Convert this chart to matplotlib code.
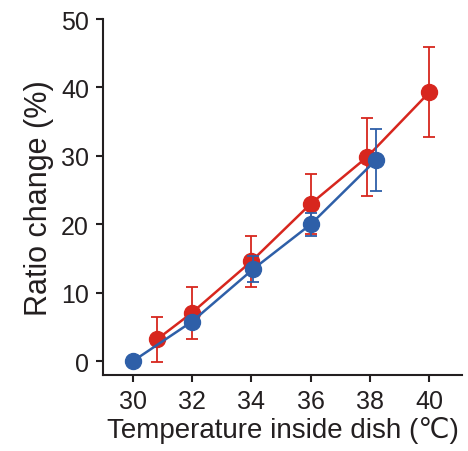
import numpy as np
import matplotlib.pyplot as plt

plt.rcParams['font.family'] = ['Liberation Sans', 'DejaVu Sans']

# red series
red_x = [30.82, 32.0, 34.0, 36.0, 37.89, 40.0]
red_y = [3.2, 7.1, 14.6, 23.0, 29.8, 39.3]
red_err = [3.3, 3.8, 3.7, 4.4, 5.7, 6.6]

# blue series
blue_x = [30.0, 32.0, 34.07, 36.0, 38.2]
blue_y = [0.0, 5.8, 13.5, 20.0, 29.4]
blue_err = [0.0, 0.4, 1.9, 1.7, 4.5]

xticks = [30, 32, 34, 36, 38, 40]
yticks = [0, 10, 20, 30, 40, 50]

red = '#d7261e'
blue = '#2e5fa8'
ink = '#231f20'

fig = plt.figure(figsize=(4.68, 4.52), dpi=100)
ax = fig.add_axes([103 / 468, 76 / 452, 359 / 468, 356 / 452])

ax.errorbar(red_x, red_y, yerr=red_err, color=red, marker='o', ms=11.5,
            lw=1.8, elinewidth=1.3, capsize=4, capthick=1.3, zorder=2)
ax.errorbar(blue_x, blue_y, yerr=blue_err, color=blue, marker='o', ms=11.5,
            lw=1.8, elinewidth=1.3, capsize=4, capthick=1.3, zorder=3)

ax.set_xlim(29, 41.1)
ax.set_ylim(-2, 50)
ax.set_xticks(xticks)
ax.set_yticks(yticks)
ax.tick_params(labelsize=18, width=1.5, length=5, pad=5, colors=ink)

for side in ['top', 'right']:
    ax.spines[side].set_visible(False)
for side in ['left', 'bottom']:
    ax.spines[side].set_linewidth(1.5)
    ax.spines[side].set_color(ink)

ax.set_xlabel('Temperature inside dish (℃)', fontsize=20, color=ink, labelpad=2)
ax.set_ylabel('Ratio change (%)', fontsize=22, color=ink, labelpad=5)

fig.savefig('out.png', dpi=100)
